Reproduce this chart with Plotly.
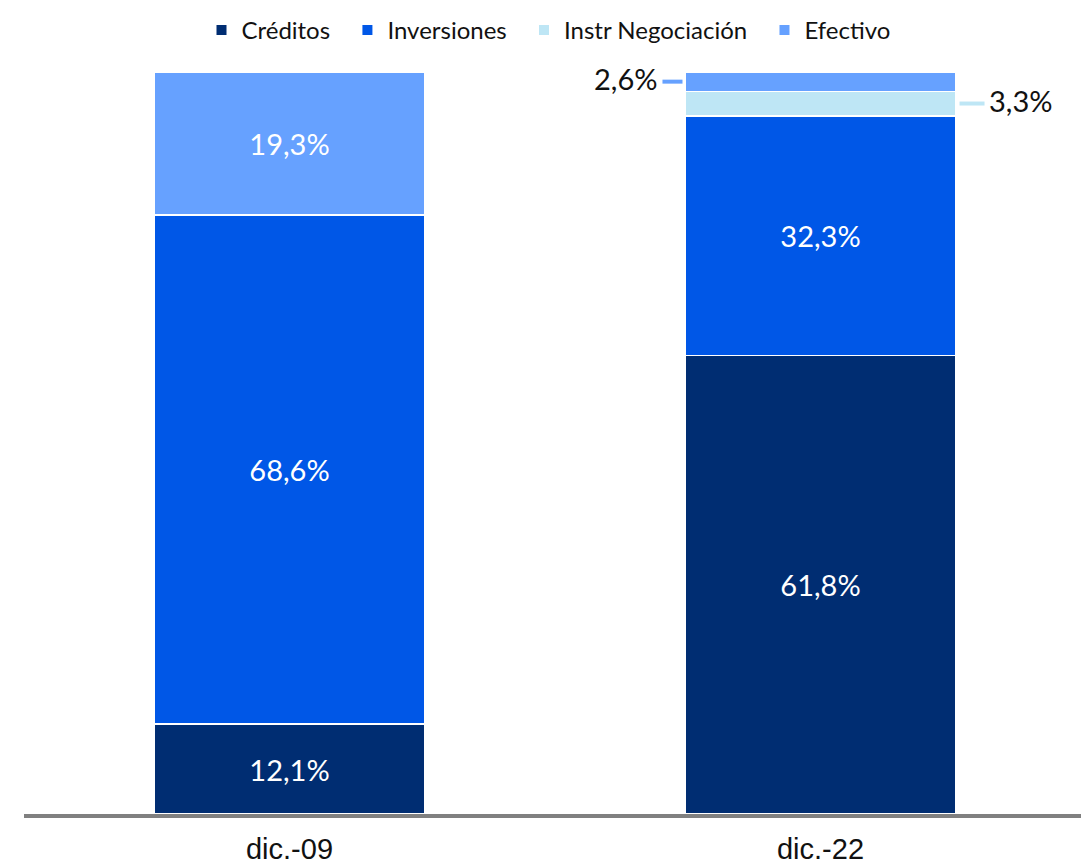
import plotly.graph_objects as go

categories = ["dic.-09", "dic.-22"]
series_names = ["Créditos", "Inversiones", "Instr Negociación", "Efectivo"]
creditos = [12.1, 61.8]
inversiones = [68.6, 32.3]
instr_negociacion = [0.0, 3.3]
efectivo = [19.3, 2.6]
colors = ["#002D72", "#0057E7", "#BEE6F5", "#66A1FF"]

values = [creditos, inversiones, instr_negociacion, efectivo]

def fmt(v):
    return f"{v:.1f}%".replace(".", ",")

fig = go.Figure()
for name, vals, col in zip(series_names, values, colors):
    texts = [fmt(v) if v >= 5 else "" for v in vals]
    fig.add_trace(go.Bar(
        x=categories, y=vals, name=name + "\u00a0\u00a0",
        marker=dict(color=col, line=dict(color="white", width=1.5)),
        text=texts, textposition="inside", insidetextanchor="middle",
        textfont=dict(color="white", size=29, family="Lato"),
        hoverinfo="skip",
    ))

# small segment labels with leader lines (dic.-22)
base_top = creditos[1] + inversiones[1]
y_instr = base_top + instr_negociacion[1] / 2
y_efec = base_top + instr_negociacion[1] + efectivo[1] / 2

fig.add_shape(type="line", xref="x", yref="y", x0=1 - 0.2976, x1=1 - 0.2599,
              y0=y_efec, y1=y_efec, line=dict(color=colors[3], width=4))
fig.add_shape(type="line", xref="x", yref="y", x0=1 + 0.2618, x1=1 + 0.3089,
              y0=y_instr, y1=y_instr, line=dict(color=colors[2], width=4))
fig.add_annotation(x=categories[1], y=y_efec, xref="x", yref="y",
                   text=fmt(efectivo[1]), showarrow=False, xanchor="right",
                   xshift=-162, yshift=3,
                   font=dict(size=29, color="#111111", family="Lato"))
fig.add_annotation(x=categories[1], y=y_instr, xref="x", yref="y",
                   text=fmt(instr_negociacion[1]), showarrow=False, xanchor="left",
                   xshift=166, yshift=3,
                   font=dict(size=29, color="#111111", family="Lato"))

fig.update_layout(
    barmode="stack",
    bargap=0.49,
    width=1089, height=864,
    margin=dict(l=16, r=11, t=64, b=58, autoexpand=False),
    plot_bgcolor="white", paper_bgcolor="white",
    showlegend=True,
    legend=dict(orientation="h", x=0.5, xanchor="center",
                yref="container", y=1.0, yanchor="top",
                font=dict(size=24, color="#111111", family="Lato"),
                traceorder="normal", itemsizing="constant", itemwidth=30),
    xaxis=dict(showline=True, linecolor="#808080", linewidth=4,
               tickfont=dict(size=29, color="#111111", family="Liberation Sans"),
               ticks="", range=[-0.5, 1.5], ticklabelstandoff=6),
    yaxis=dict(range=[0, 100], visible=False, showgrid=False),
)

fig.write_html("out.html")
